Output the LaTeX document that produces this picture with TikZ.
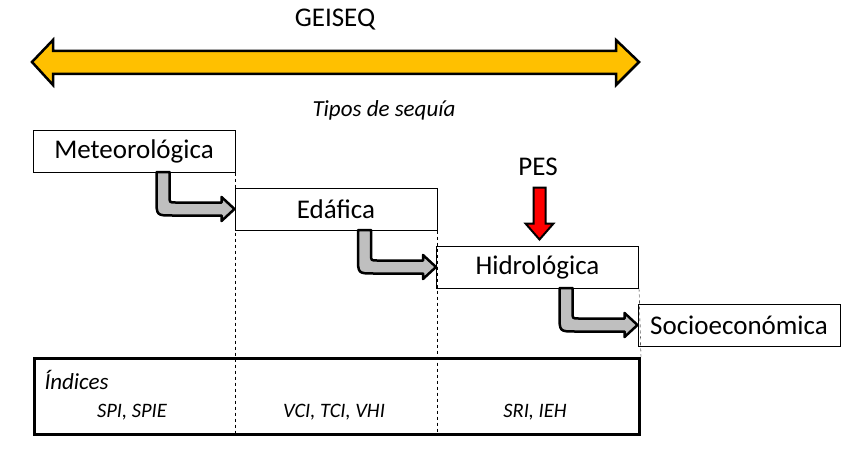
\documentclass[tikz,border=0pt]{standalone}
\usepackage{fontspec}
\setmainfont{Carlito}
\usetikzlibrary{calc}
\definecolor{geiyellow}{HTML}{FFC000}
\definecolor{bendgray}{HTML}{BFBFBF}

\begin{document}
\begin{tikzpicture}[x=1pt,y=-1pt,
  stagebox/.style={draw,line width=1pt,minimum width=202pt,minimum height=42pt,
    inner sep=0pt,font=\fontsize{27}{32}\selectfont},
  bendarrow/.style={draw,line width=2.5pt,fill=bendgray,line join=round},
  idxlabel/.style={font=\fontsize{20.5}{24}\selectfont\itshape}]
\useasboundingbox (0,0) rectangle (855,452);
% title and double arrow
\node[font=\fontsize{27}{32}\selectfont] (geiseq) at (335,20) {GEISEQ};
\draw[line width=2.5pt,fill=geiyellow,line join=miter]
  (32,62) -- (53,40) -- (53,51) -- (616,51) -- (616,40) -- (639,62)
  -- (616,85) -- (616,74) -- (53,74) -- (53,85) -- cycle;
\node[font=\fontsize{23}{28}\selectfont\itshape] (tipos) at (384,110) {Tipos de sequía};
% stages
\node[stagebox] (met) at (134,151) {Meteorológica};
\node[stagebox] (edf) at (336,209) {Edáfica};
\node[stagebox] (hid) at (537.5,267) {Hidrológica};
\node[stagebox] (soc) at (739,325) {Socioeconómica};
% bent arrows
\draw[bendarrow,shift={(edf.west)}] (-78,-37) -- (-78,-10) .. controls (-78,6.5) .. (-62,6.5)
  -- (-13,6.5) -- (-13,12) -- (0,0) -- (-13,-12) -- (-13,-6.5) -- (-59,-6.5)
  .. controls (-65,-6.5) .. (-65,-13) -- (-65,-37) -- cycle;
\draw[bendarrow,shift={(hid.west)}] (-78,-37) -- (-78,-10) .. controls (-78,6.5) .. (-62,6.5)
  -- (-13,6.5) -- (-13,12) -- (0,0) -- (-13,-12) -- (-13,-6.5) -- (-59,-6.5)
  .. controls (-65,-6.5) .. (-65,-13) -- (-65,-37) -- cycle;
\draw[bendarrow,shift={(soc.west)}] (-78,-37) -- (-78,-10) .. controls (-78,6.5) .. (-62,6.5)
  -- (-13,6.5) -- (-13,12) -- (0,0) -- (-13,-12) -- (-13,-6.5) -- (-59,-6.5)
  .. controls (-65,-6.5) .. (-65,-13) -- (-65,-37) -- cycle;
% PES
\node[font=\fontsize{27}{32}\selectfont] (pes) at (538,167) {PES};
\draw[line width=2pt,fill=red,line join=miter,shift={($(hid.north)+(2,-6)$)}]
  (-6,-52) -- (6,-52) -- (6,-16) -- (14,-16) -- (0,0) -- (-14,-16) -- (-6,-16) -- cycle;
% indices
\node[draw,line width=3pt,minimum width=605pt,minimum height=76pt,inner sep=0pt,
  anchor=north west] (idxbox) at (33,357) {};
\node[font=\fontsize{23}{28}\selectfont\itshape,anchor=west] (indices) at (41,380) {Índices};
\draw[dashed] (met.south east) -- (met.south east |- idxbox.south);
\draw[dashed] (edf.south east) -- (edf.south east |- idxbox.south);
\draw[dashed] (hid.south east) -- (idxbox.north east);
\node[idxlabel] (spi) at (132,412) {SPI, SPIE};
\node[idxlabel] (vci) at (334,412) {VCI, TCI, VHI};
\node[idxlabel] (sri) at (535,412) {SRI, IEH};
\end{tikzpicture}
\end{document}
